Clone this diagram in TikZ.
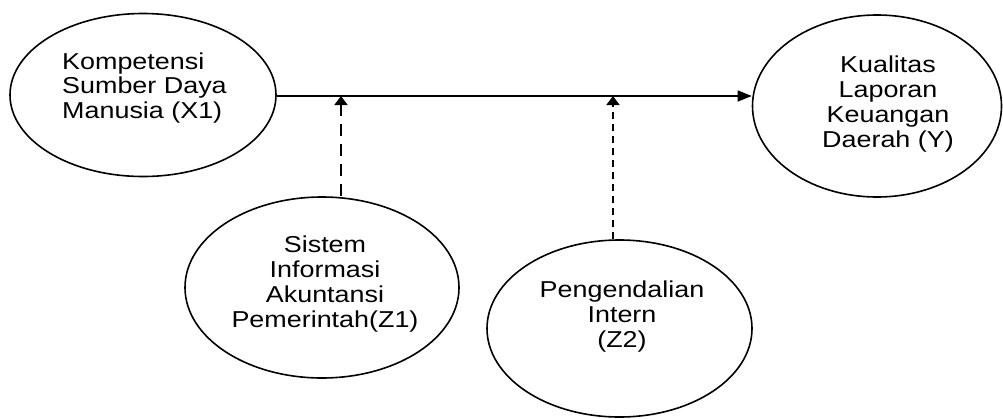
\documentclass[tikz,border=0pt]{standalone}
\usepackage{fontspec}
\setmainfont{Liberation Sans}[FakeStretch=1.17]
\usetikzlibrary{arrows.meta,shapes.geometric}
\begin{document}
\begin{tikzpicture}[x=1pt,y=-1pt,
  ell/.style={draw, ellipse, line width=1.6pt, inner sep=0pt},
  lbl/.style={inner sep=0pt, font=\fontsize{23}{24.8}\selectfont},
  mainline/.style={line width=1.6pt, -{Triangle[length=14pt,width=11pt]}},
  longdash/.style={line width=1.6pt, dash pattern=on 12pt off 8pt, -{Triangle[length=9pt,width=13pt]}},
  shortdash/.style={line width=1.6pt, dash pattern=on 7pt off 5pt, -{Triangle[length=9pt,width=13pt]}}]
\useasboundingbox (0,0) rectangle (1003,418);
\node[ell, minimum width=266pt, minimum height=163pt] (x1) at (143,95) {};
\node[ell, minimum width=249pt, minimum height=182pt] (y) at (877,106) {};
\node[ell, minimum width=274pt, minimum height=181pt] (z1) at (322,287.5) {};
\node[ell, minimum width=265pt, minimum height=177pt] (z2) at (619.5,328.5) {};
\node[lbl, align=left, anchor=west] (x1t) at (62,88) {Kompetensi\\Sumber Daya\\Manusia (X1)};
\node[lbl, align=center] (yt) at (888,104) {Kualitas\\Laporan\\Keuangan\\Daerah (Y)};
\node[lbl, align=center] (z1t) at (325,284) {Sistem\\Informasi\\Akuntansi\\Pemerintah(Z1)};
\node[lbl, align=center] (z2t) at (622,316.5) {Pengendalian\\Intern\\(Z2)};
\coordinate (m1) at (341,96);
\coordinate (m2) at (613,96);
\draw[mainline] (x1.east |- m1) -- (y.west |- m1);
\draw[longdash] (m1 |- z1.north) -- (m1);
\draw[shortdash] (m2 |- z2.north) -- (m2);
\end{tikzpicture}
\end{document}
